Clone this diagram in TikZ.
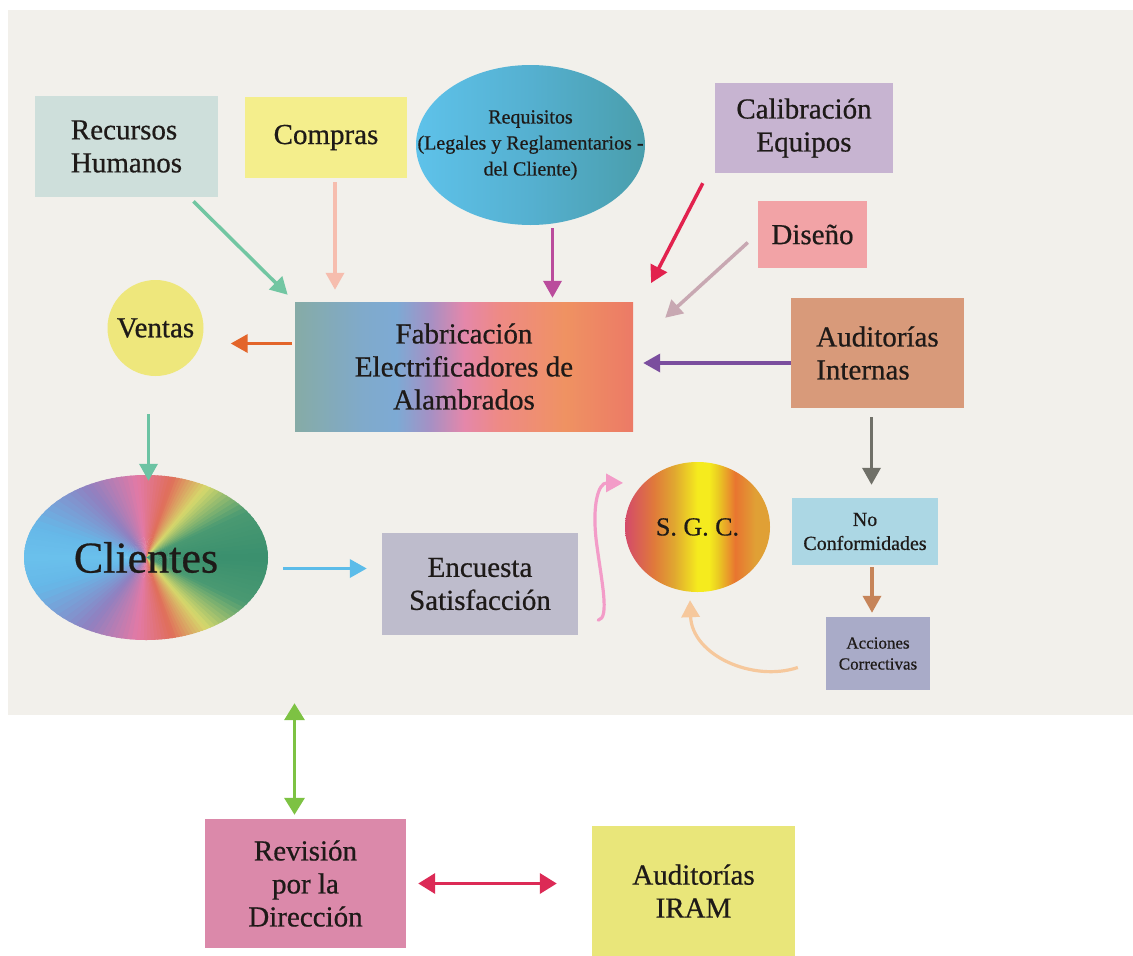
\documentclass[tikz,border=0pt]{standalone}
\usepackage{fontspec}
\setmainfont{Liberation Serif}[UprightFeatures={FakeBold=0.6}]
\usetikzlibrary{arrows.meta,shapes.geometric}

% fills of the boxes
\definecolor{panelgray}{HTML}{F2F0EB}
\definecolor{inktext}{HTML}{1E1A18}
\definecolor{rhfill}{HTML}{CEDFDB}
\definecolor{comfill}{HTML}{F4EE8C}
\definecolor{reqA}{HTML}{5EC2EA}
\definecolor{reqM}{HTML}{55B0D0}
\definecolor{reqB}{HTML}{4A9EAC}
\definecolor{calfill}{HTML}{C7B4D1}
\definecolor{disfill}{HTML}{F2A3A6}
\definecolor{audfill}{HTML}{D89A7A}
\definecolor{venfill}{HTML}{EEE77C}
\definecolor{encfill}{HTML}{BEBCCC}
\definecolor{ncfill}{HTML}{ACD7E4}
\definecolor{acfill}{HTML}{A9ABC8}
\definecolor{revfill}{HTML}{DB89AA}
\definecolor{iramfill}{HTML}{E9E67A}
% arrow colours
\definecolor{cRH}{HTML}{72C6A2}
\definecolor{cCom}{HTML}{F6BDAE}
\definecolor{cReq}{HTML}{BA4C9C}
\definecolor{cCal}{HTML}{E2224E}
\definecolor{cDis}{HTML}{C8A8B2}
\definecolor{cAud}{HTML}{7B4E9E}
\definecolor{cOut}{HTML}{E3652A}
\definecolor{cVen}{HTML}{6CC3A3}
\definecolor{cCli}{HTML}{5CBCE9}
\definecolor{cPink}{HTML}{F39CC8}
\definecolor{cGray}{HTML}{707068}
\definecolor{cBrown}{HTML}{C68459}
\definecolor{cPeach}{HTML}{F6C89C}
\definecolor{cGreen}{HTML}{7DC243}
\definecolor{cRed}{HTML}{DC2A56}
% colours of the production box
\definecolor{fabA}{HTML}{86ABA6}
\definecolor{fabB}{HTML}{80AACB}
\definecolor{fabC}{HTML}{7DAAD4}
\definecolor{fabD}{HTML}{A690C4}
\definecolor{fabE}{HTML}{E487AA}
\definecolor{fabF}{HTML}{EE8A86}
\definecolor{fabG}{HTML}{EF9262}
\definecolor{fabH}{HTML}{EC7A66}
% colours of the S.G.C. disc
\definecolor{sgcA}{HTML}{D44A6A}
\definecolor{sgcB}{HTML}{E07A3A}
\definecolor{sgcC}{HTML}{E0A830}
\definecolor{sgcD}{HTML}{F5EB1E}
\definecolor{sgcE}{HTML}{EACC22}
\definecolor{sgcF}{HTML}{E87530}
\definecolor{sgcG}{HTML}{E0A035}
% colours round the customer disc
\definecolor{cl0}{HTML}{3A8F6E}
\definecolor{cl1}{HTML}{4A9A72}
\definecolor{cl2}{HTML}{D6D86C}
\definecolor{cl3}{HTML}{E06E5A}
\definecolor{cl4}{HTML}{E27AA6}
\definecolor{cl5}{HTML}{9080C0}
\definecolor{cl6}{HTML}{66B8E8}
\definecolor{cl7}{HTML}{6AC0EC}

\pgfdeclarehorizontalshading{fabshade}{100bp}{color(0bp)=(fabA); color(25bp)=(fabA); color(35bp)=(fabB); color(40bp)=(fabC); color(45bp)=(fabD); color(50bp)=(fabE); color(55bp)=(fabF); color(65bp)=(fabG); color(75bp)=(fabH); color(100bp)=(fabH)}
\pgfdeclarehorizontalshading{sgcshade}{100bp}{color(0bp)=(sgcA); color(25bp)=(sgcA); color(35bp)=(sgcB); color(42bp)=(sgcC); color(50bp)=(sgcD); color(54bp)=(sgcD); color(57bp)=(sgcE); color(63bp)=(sgcF); color(70bp)=(sgcG); color(75bp)=(sgcG); color(100bp)=(sgcG)}

\begin{document}
\begin{tikzpicture}[x=1pt,y=-1pt,
  box/.style={rectangle, inner sep=0pt, align=center, text=inktext, font=\fontsize{29}{33}\selectfont},
  flow/.style={line width=3.5pt, -{Triangle[length=17pt,width=18pt]}},
  both/.style={line width=3.5pt, {Triangle[length=17pt,width=20pt]}-{Triangle[length=17pt,width=20pt]}}]

 % page and the grey panel holding the system
 \useasboundingbox[fill=white] (0,0) rectangle (1133,956);
 \node[rectangle, fill=panelgray, minimum width=1125pt, minimum height=705pt, inner sep=0pt] (panel) at (570.5,362.5) {};

 % inputs of the production
 \node[box, fill=rhfill, minimum width=183pt, minimum height=101pt, align=left] (rh) at (126.5,146.5) {Recursos\\Humanos};
 \node[box, fill=comfill, minimum width=162pt, minimum height=81pt] (compras) at (326,137.5) {Compras};
 \node[box, ellipse, left color=reqA, right color=reqB, middle color=reqM, minimum width=229pt, minimum height=160pt,
   label={[font=\fontsize{20}{26}\selectfont, align=center, text=inktext]center:Requisitos\\(Legales y Reglamentarios -\\del Cliente)}] (req) at (530.5,145) {};
 \node[box, fill=calfill, minimum width=178pt, minimum height=90pt] (calib) at (804,128) {Calibración\\Equipos};
 \node[box, fill=disfill, minimum width=109pt, minimum height=67pt] (diseno) at (812.5,234.5) {Diseño};

 % production and internal audits
 \node[box, shade, shading=fabshade, minimum width=338pt, minimum height=129pt] (fab) at (464,366.5) {Fabricación\\Electrificadores de\\Alambrados};
 \node[box, fill=audfill, minimum width=173pt, minimum height=110pt, align=left] (audint) at (877.5,353) {Auditorías\\Internas};

 % sales and customers
 \node[box, circle, fill=venfill, minimum size=96pt] (ventas) at (155.5,328) {Ventas};
 \node[box, ellipse, minimum width=244pt, minimum height=165pt, font=\fontsize{44}{50}\selectfont,
   path picture={
     \foreach \aa/\ab/\ca/\cb in {0/25/cl0/cl1, 25/50/cl1/cl2, 50/72/cl2/cl3, 72/97/cl3/cl4, 97/130/cl4/cl5, 130/165/cl5/cl6, 165/180/cl6/cl7}{
       \foreach \i in {0,...,9}{
         \pgfmathsetmacro{\angA}{\aa+(\ab-\aa)*\i/10-0.4}
         \pgfmathsetmacro{\angB}{\aa+(\ab-\aa)*(\i+1)/10+0.6}
         \pgfmathtruncatemacro{\pct}{10*\i+5}
         \path[fill=\cb!\pct!\ca] (path picture bounding box.center) -- +(\angA:200) -- +(\angB:200) -- cycle;
         \path[fill=\cb!\pct!\ca] (path picture bounding box.center) -- +(-\angA:200) -- +(-\angB:200) -- cycle;
       }
     }
   }] (clientes) at (146,557.5) {Clientes};
 \node[box, fill=encfill, minimum width=196pt, minimum height=102pt] (encuesta) at (480,584) {Encuesta\\Satisfacción};

 % quality system loop
 \node[box, ellipse, shade, shading=sgcshade, minimum width=145pt, minimum height=130pt, font=\fontsize{26}{30}\selectfont] (sgc) at (697.5,527) {S. G. C.};
 \node[box, fill=ncfill, minimum width=146pt, minimum height=67pt, font=\fontsize{20}{24}\selectfont] (noconf) at (865,531.5) {No\\Conformidades};
 \node[box, fill=acfill, minimum width=104pt, minimum height=73pt, font=\fontsize{17}{21}\selectfont] (acciones) at (878,653.5) {Acciones\\Correctivas};

 % management review, outside the panel
 \node[box, fill=revfill, minimum width=201pt, minimum height=129pt] (revision) at (305.5,883.5) {Revisión\\por la\\Dirección};
 \node[box, fill=iramfill, minimum width=203pt, minimum height=130pt] (iram) at (693.5,891) {Auditorías\\IRAM};

 % arrows into the production
 \draw[flow, cRH, shorten <=6pt, shorten >=10pt] ([shift={(-29,0)}]rh.south east) -- (fab.north west);
 \draw[flow, cCom, shorten <=4pt, shorten >=12pt] ([shift={(9,0)}]compras.south) -- ([shift={(9,0)}]compras.south |- fab.north);
 \draw[flow, cReq, shorten <=3pt, shorten >=4pt] ([shift={(22,0)}]req.south) -- ([shift={(22,0)}]req.south |- fab.north);
 \draw[flow, cCal, shorten >=2pt] ([shift={(-12,10)}]calib.south west) -- ([shift={(17,-17)}]fab.north east);
 \draw[flow, cDis] ([shift={(-10,8)}]diseno.west) -- ([shift={(32,16)}]fab.north east);
 \draw[flow, cAud, shorten >=10pt] ([shift={(0,10)}]audint.west) -- ([shift={(0,10)}]audint.west -| fab.east);

 % production to the customer
 \draw[flow, cOut, shorten <=3pt, shorten >=27pt] ([shift={(0,-23)}]fab.west) -- ([shift={(0,-23)}]fab.west -| ventas.east);
 \draw[flow, cVen, shorten <=38pt, shorten >=-6pt] ([shift={(-7,0)}]ventas.south) -- ([shift={(-7,0)}]ventas.south |- clientes.north);
 \draw[flow, cCli, shorten <=15pt, shorten >=15pt] ([shift={(0,11)}]clientes.east) -- ([shift={(0,11)}]clientes.east -| encuesta.west);

 % feedback into the S.G.C.
 \draw[flow, cPink, line width=3.2pt, line cap=round] ([shift={(20,-15)}]encuesta.south east) .. controls +(12,-2) and +(5,40) .. ++(-2,-80) .. controls +(-4,-35) and +(-25,0) .. ([shift={(-23,2)}]sgc.north west);
 \draw[flow, cGray, shorten <=9pt, shorten >=13pt] ([shift={(-6,0)}]audint.south) -- ([shift={(-6,0)}]audint.south |- noconf.north);
 \draw[flow, cBrown, shorten <=2pt, shorten >=4pt] ([shift={(7,0)}]noconf.south) -- ([shift={(7,0)}]noconf.south |- acciones.north);
 \draw[flow, cPeach, line width=3.2pt] ([shift={(-28,14)}]acciones.west) .. controls +(-45,15) and +(2,55) .. ([shift={(-7.5,8)}]sgc.south);

 % management review
 \draw[both, cGreen, shorten <=4pt, shorten >=-12pt] ([shift={(-11,0)}]revision.north) -- ([shift={(-11,0)}]revision.north |- panel.south);
 \draw[both, cRed, shorten <=12pt, shorten >=35pt] (revision.east) -- (revision.east -| iram.west);

\end{tikzpicture}
\end{document}
